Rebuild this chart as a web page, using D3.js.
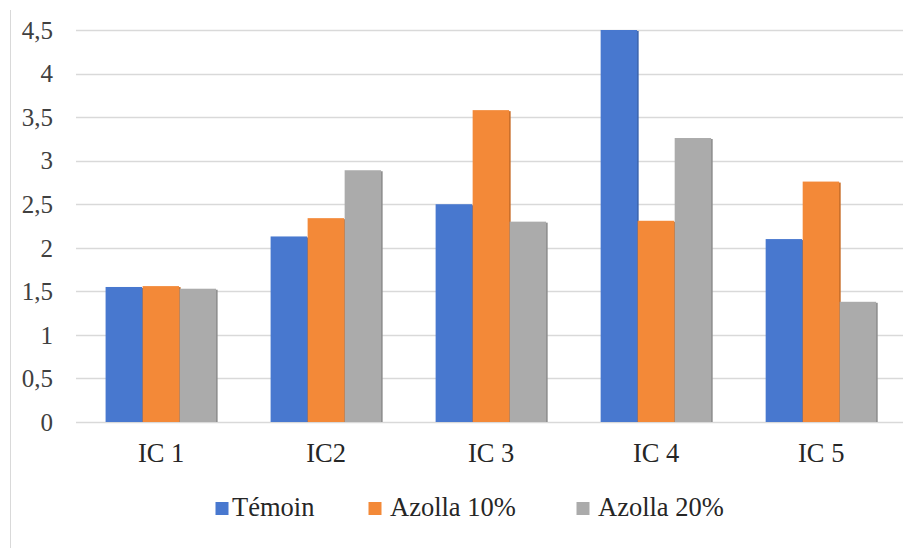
<!DOCTYPE html>
<html>
<head>
<meta charset="utf-8">
<script src="https://cdnjs.cloudflare.com/ajax/libs/d3/7.8.5/d3.min.js"></script>
<style>
  html, body { margin: 0; padding: 0; background: #fff; }
  svg { display: block; }
  svg text { font-family: 'Liberation Serif', 'Times New Roman', Tinos, 'DejaVu Serif', serif; }
</style>
</head>
<body>
<svg id="chart" width="903" height="548"></svg>
<script>
// Categories and series values
const categories = ["IC 1", "IC2", "IC 3", "IC 4", "IC 5"];
const seriesNames = ["Témoin", "Azolla 10%", "Azolla 20%"];
const temoin   = [1.55, 2.13, 2.50, 4.50, 2.10];
const azolla10 = [1.56, 2.34, 3.58, 2.31, 2.76];
const azolla20 = [1.53, 2.89, 2.30, 3.26, 1.38];
const yTicks = [0, 0.5, 1, 1.5, 2, 2.5, 3, 3.5, 4, 4.5];
const yTickLabels = ["0", "0,5", "1", "1,5", "2", "2,5", "3", "3,5", "4", "4,5"];

const seriesValues = [temoin, azolla10, azolla20];
const colors = ["#4878CF", "#F38938", "#ABABAB"];
const shades = ["#3d66b0", "#c96f2b", "#8f8f8f"];

const svg = d3.select("#chart");

// Frame line on the left
svg.append("line")
  .attr("x1", 10.5).attr("x2", 10.5)
  .attr("y1", 10).attr("y2", 548)
  .attr("stroke", "#d9d9d9").attr("stroke-width", 1);

const plot = { left: 76, right: 903, top: 30, bottom: 422 };

const y = d3.scaleLinear().domain([0, 4.5]).range([plot.bottom, plot.top]);

const x = d3.scaleBand()
  .domain(categories)
  .range([78.6, 903.7])
  .paddingInner(0.327)
  .paddingOuter(0.1635);

const xs = d3.scaleBand().domain(seriesNames).range([0, x.bandwidth()]);

// Horizontal gridlines
svg.append("g").selectAll("line")
  .data(yTicks)
  .join("line")
  .attr("x1", plot.left).attr("x2", plot.right)
  .attr("y1", d => Math.round(y(d)) + 0.5)
  .attr("y2", d => Math.round(y(d)) + 0.5)
  .attr("stroke", "#d9d9d9").attr("stroke-width", 1.6);

// Y axis labels
const yAxis = d3.axisLeft(y)
  .tickValues(yTicks)
  .tickFormat((d, i) => yTickLabels[i])
  .tickSize(0)
  .tickPadding(0);
const gy = svg.append("g").attr("transform", "translate(53,0)").call(yAxis);
gy.attr("font-family", null);
gy.select(".domain").remove();
gy.selectAll("text")
  .attr("font-size", 25)
  .attr("fill", "#404040")
  .attr("dy", "0.33em");

// Bars
const rows = [];
categories.forEach((c, i) => {
  seriesNames.forEach((s, j) => rows.push({ c, s, j, v: seriesValues[j][i] }));
});

const bars = svg.append("g");
// subtle shadow on the right edge
bars.selectAll("rect.shadow")
  .data(rows)
  .join("rect")
  .attr("class", "shadow")
  .attr("x", d => x(d.c) + xs(d.s) + xs.bandwidth() - 1)
  .attr("y", d => y(d.v) + 1)
  .attr("width", 2)
  .attr("height", d => y(0) - y(d.v) - 1)
  .attr("fill", d => shades[d.j]);
bars.selectAll("rect.bar")
  .data(rows)
  .join("rect")
  .attr("class", "bar")
  .attr("x", d => x(d.c) + xs(d.s))
  .attr("y", d => y(d.v))
  .attr("width", xs.bandwidth() - 0.6)
  .attr("height", d => y(0) - y(d.v))
  .attr("fill", d => colors[d.j]);

// X axis labels
const xAxis = d3.axisBottom(x).tickSize(0).tickPadding(0);
const gx = svg.append("g").attr("transform", "translate(0,462)").call(xAxis);
gx.attr("font-family", null);
gx.select(".domain").remove();
gx.selectAll("text")
  .attr("font-size", 26.5)
  .attr("fill", "#262626")
  .attr("dy", 0);

// Legend
const legendX = [215.5, 368.5, 576.5];
const legend = svg.append("g");
const items = legend.selectAll("g")
  .data(seriesNames)
  .join("g")
  .attr("transform", (d, i) => `translate(${legendX[i]},0)`);
items.append("rect")
  .attr("x", 0).attr("y", 502)
  .attr("width", 13).attr("height", 13)
  .attr("fill", (d, i) => colors[i]);
items.append("text")
  .attr("x", (d, i) => i === 0 ? 16.5 : 21.5)
  .attr("y", 516)
  .attr("font-size", 26.5)
  .attr("fill", "#262626")
  .text(d => d);
</script>
</body>
</html>
